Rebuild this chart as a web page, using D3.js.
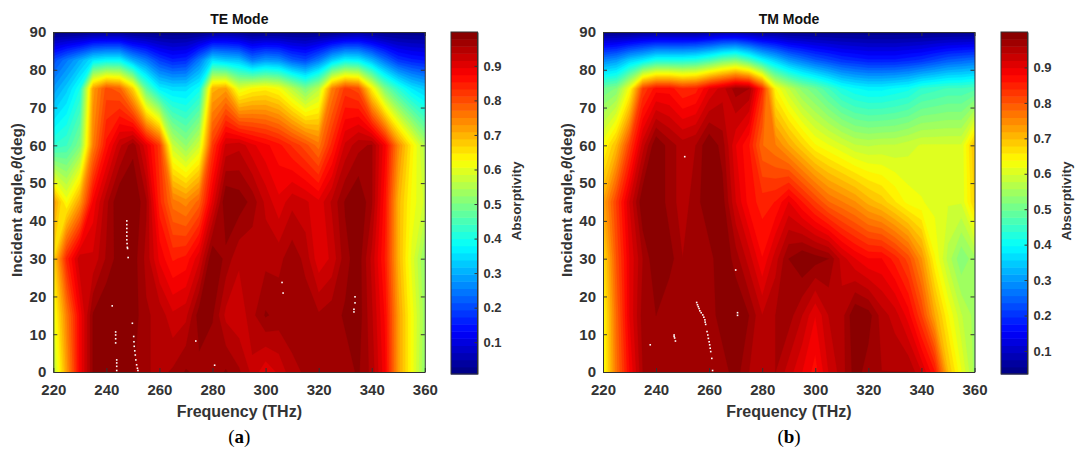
<!DOCTYPE html>
<html>
<head>
<meta charset="utf-8">
<script src="https://cdn.jsdelivr.net/npm/d3@7"></script>
<style>
html, body { margin: 0; background: #fff; }
svg { display: block; }
text { font-family: "Liberation Sans", Arial, sans-serif; font-weight: bold; fill: #333; }
.tick line, .domain { stroke: #333; }
</style>
</head>
<body>
<svg id="chart" width="1075" height="450"></svg>
<script>
// frequency samples (THz) and angle rows (deg)
var freqs = [220,225,230,235,240,245,250,255,260,265,270,275,280,285,290,295,300,305,310,315,320,325,330,335,340,345,350,355,360];
var angles = [0,15,30,45,60,75,82.5,90];

var te0  = [.55,.72,.88,.98,1,.98,.98,.96,.95,.96,.98,.97,.96,.98,.96,.93,.90,.92,.95,.96,.97,.97,.97,.98,.95,.88,.72,.62,.52];
var te15 = [.60,.75,.88,.98,1,.98,.99,.96,.95,.92,.93,.99,.98,.93,.92,.95,.98,.97,.97,.97,.96,.97,.98,.99,.94,.87,.72,.62,.53];
var te30 = [.66,.84,.93,.92,.96,.99,.99,.95,.89,.85,.86,.91,1,.97,.94,.94,.95,.95,.97,.95,.90,.92,.97,.99,.93,.85,.70,.60,.52];
var te45 = [.73,.62,.72,.88,.95,1,1,.96,.84,.76,.74,.78,.90,1,.99,.97,.93,.90,.93,.92,.90,.94,.98,1,.96,.86,.70,.62,.58];
var te60 = [.42,.44,.50,.75,.86,.93,.97,.90,.82,.57,.52,.58,.82,.92,.93,.90,.88,.86,.83,.80,.76,.84,.92,.95,.96,.88,.74,.64,.55];
var te75 = [.28,.33,.40,.72,.80,.78,.67,.47,.37,.35,.35,.39,.70,.72,.60,.63,.64,.62,.56,.50,.56,.75,.82,.80,.64,.50,.42,.36,.33];
var te82 = [.20,.25,.30,.36,.38,.38,.30,.25,.19,.16,.17,.25,.35,.33,.32,.25,.28,.27,.22,.20,.25,.33,.38,.37,.31,.24,.18,.16,.15];
var te90 = [.01,.01,.01,.02,.02,.02,.01,.01,.01,.01,.01,.01,.02,.03,.02,.01,.01,.01,.01,.01,.01,.01,.02,.03,.02,.01,.01,.01,.01];

var tm0  = [.62,.77,.88,.96,.97,.96,.96,.96,.96,.97,.99,.96,.94,.96,.93,.90,.87,.92,.95,.99,.97,.96,.96,.96,.92,.86,.70,.62,.55];
var tm15 = [.63,.78,.90,.97,.98,.96,.96,.96,.97,.99,1,.98,.94,.96,.97,.94,.90,.94,.95,1,.99,.95,.93,.89,.82,.72,.64,.58,.55];
var tm30 = [.66,.80,.90,.96,1,.99,.96,.96,.97,1,.97,.93,.88,.93,.98,1,.99,.98,.93,.90,.88,.88,.85,.81,.74,.64,.57,.52,.55];
var tm45 = [.72,.82,.92,1,1,.97,.95,.97,1,.99,.92,.87,.85,.86,.90,.86,.82,.78,.76,.74,.71,.69,.66,.63,.62,.61,.60,.60,.68];
var tm60 = [.63,.70,.82,.93,1,.97,.95,.96,1,.97,.90,.86,.78,.76,.72,.68,.64,.62,.60,.58,.575,.58,.58,.59,.60,.60,.60,.60,.70];
var tm75 = [.50,.52,.63,.82,.87,.87,.84,.85,.90,.93,.97,.96,.84,.64,.58,.53,.50,.46,.42,.40,.39,.39,.40,.41,.44,.45,.46,.46,.47];
var tm82 = [.28,.30,.35,.38,.42,.42,.42,.43,.46,.50,.52,.47,.40,.35,.30,.27,.24,.22,.20,.19,.18,.18,.18,.19,.20,.22,.24,.25,.26];
var tm90 = [.04,.04,.04,.05,.05,.05,.05,.05,.06,.07,.07,.06,.05,.05,.04,.04,.04,.04,.04,.04,.04,.04,.04,.04,.04,.04,.04,.04,.04];

// white gaps in the surface, [freq, angle]
var teSpecks = [[247.7,40],[247.7,39],[247.7,38],[247.7,37],[247.7,36],[247.7,35],[247.8,34],[247.9,33],[248,32.7],[248.2,30.3],
    [242.2,17.5],[249.8,12.9],[243.5,10.6],[243.5,9.8],[243.5,8.8],[243.5,7.7],[243.9,3.2],[243.9,2.4],[243.9,1.5],[243.9,.4],
    [250.3,9.4],[250.4,8],[250.5,6.8],[250.7,5.6],[250.9,4.5],[251.1,3.2],[251.4,1.9],[251.7,1],[251.9,.4],
    [273.7,8.2],[280.8,1.8],[306.2,23.7],[306.6,20.9],[333.7,19.9],[333.7,18.3],[333.3,16.6],[333.3,15.9]];
var tmSpecks = [[250.8,57],[270,27],[270.7,15.7],[270.7,15],[237.8,7.2],[246.8,9.8],[246.8,9.4],[247,9],[247.3,8.2],
    [255.3,18.4],[255.6,17.8],[255.9,17.3],[256.2,16.8],[256.5,16.2],[257,15.7],[257.6,15.1],[258,14.5],[258.4,13.8],[258.5,13.2],[258.7,12.6],
    [259.2,10.7],[259.5,9.8],[259.7,8.9],[260,8],[260.2,7.2],[260.4,6.3],[260.6,5.4],[261,3.6],[261.3,.4]];

var xTicks = [220,240,260,280,300,320,340,360];
var yTicks = [0,10,20,30,40,50,60,70,80,90];
var cbTicks = [.1,.2,.3,.4,.5,.6,.7,.8,.9];

var svg = d3.select("#chart");

// matlab jet, t in 0..1
function jet(t) {
    var r = Math.min(4 * t - 1.5, -4 * t + 4.5),
        g = Math.min(4 * t - 0.5, -4 * t + 3.5),
        b = Math.min(4 * t + 0.5, -4 * t + 2.5);
    var c = function(v) { return Math.round(255 * Math.max(0, Math.min(1, v))); };
    return "rgb(" + c(r) + "," + c(g) + "," + c(b) + ")";
}

var nLevels = 48;

function drawPanel(opt) {
    var g = svg.append("g");
    var x = d3.scaleLinear().domain([220, 360]).range([opt.left, opt.left + 371.5]);
    var y = d3.scaleLinear().domain([0, 90]).range([372, 32]);

    // colour levels
    var step = (opt.cmax - opt.cmin) / nLevels;
    var levels = d3.range(nLevels).map(function(i) { return opt.cmin + i * step; });
    var color = function(v) {
        var i = Math.floor((v - opt.cmin) / step + 1e-6);
        return jet((i + .5) / nLevels);
    };

    // flat grid for d3.contours, first row is the top of the plot
    var nx = freqs.length, ny = angles.length, values = [];
    for (var j = ny - 1; j >= 0; j--) values = values.concat(opt.rows[j]);

    var contours = d3.contours().size([nx, ny]).smooth(true).thresholds(levels)(values);

    // contour grid coords sit half a cell off the samples, rows are not evenly spaced
    var gx = d3.scaleLinear().domain([.5, nx - .5]).range(x.range());
    var gy = d3.scaleLinear()
        .domain(angles.map(function(a, i) { return i + .5; }))
        .range(angles.slice().reverse().map(y));
    var path = d3.geoPath(d3.geoTransform({
        point: function(px, py) { this.stream.point(gx(px), gy(py)); }
    }));

    var clipId = "clip" + Math.round(opt.left);
    svg.append("clipPath").attr("id", clipId).append("rect")
        .attr("x", x(220)).attr("y", y(90)).attr("width", x(360) - x(220)).attr("height", y(0) - y(90));

    g.append("rect")
        .attr("x", x(220)).attr("y", y(90)).attr("width", x(360) - x(220)).attr("height", y(0) - y(90))
        .attr("fill", color(opt.cmin));

    g.append("g").attr("clip-path", "url(#" + clipId + ")")
        .selectAll("path")
        .data(contours)
        .enter().append("path")
        .attr("d", path)
        .attr("fill", function(d) { return color(d.value); })
        .attr("stroke", function(d) { return color(d.value); })
        .attr("stroke-width", .3);

    g.selectAll(".speck")
        .data(opt.specks)
        .enter().append("rect")
        .attr("class", "speck")
        .attr("x", function(d) { return x(d[0]) - .8; })
        .attr("y", function(d) { return y(d[1]) - .8; })
        .attr("width", 1.6)
        .attr("height", 1.6)
        .attr("fill", "#fff");

    // axes, mirrored on the far sides without labels
    var xAxis = g.append("g").attr("transform", "translate(0,372)")
        .call(d3.axisBottom(x).tickValues(xTicks).tickSizeInner(-4).tickSizeOuter(0).tickPadding(12));
    g.append("g").attr("transform", "translate(0,32)")
        .call(d3.axisTop(x).tickValues(xTicks).tickSizeInner(-4).tickSizeOuter(0).tickFormat(""));
    var yAxis = g.append("g").attr("transform", "translate(" + opt.left + ",0)")
        .call(d3.axisLeft(y).tickValues(yTicks).tickSizeInner(-4).tickSizeOuter(0).tickPadding(7));
    g.append("g").attr("transform", "translate(" + (opt.left + 371.5) + ",0)")
        .call(d3.axisRight(y).tickValues(yTicks).tickSizeInner(-4).tickSizeOuter(0).tickFormat(""));
    xAxis.selectAll("text").style("font-size", "15px");
    yAxis.selectAll("text").style("font-size", "15px");

    g.append("text")
        .attr("x", opt.left + 186).attr("y", 24)
        .attr("text-anchor", "middle")
        .style("font-size", "14px").style("fill", "#111")
        .text(opt.title);
    g.append("text")
        .attr("x", opt.left + 186).attr("y", 417)
        .attr("text-anchor", "middle")
        .style("font-size", "16px")
        .text("Frequency (THz)");
    var yl = g.append("text")
        .attr("transform", "translate(" + (opt.left - 31) + ",200) rotate(-90)")
        .attr("text-anchor", "middle")
        .style("font-size", "15.4px");
    yl.append("tspan").text("Incident angle,");
    yl.append("tspan").style("font-style", "italic").text("θ");
    yl.append("tspan").text("(deg)");

    var cap = g.append("text")
        .attr("x", opt.left + 186).attr("y", 443)
        .attr("text-anchor", "middle")
        .style("font-family", "'Liberation Serif', serif")
        .style("font-size", "19px")
        .style("font-weight", "normal")
        .style("fill", "#000");
    cap.append("tspan").text("(");
    cap.append("tspan").style("font-weight", "bold").text(opt.caption);
    cap.append("tspan").text(")");

    // colorbar
    var cb = d3.scaleLinear().domain([opt.cmin, opt.cmax]).range([374, 32]);
    g.selectAll(".band")
        .data(levels)
        .enter().append("rect")
        .attr("class", "band")
        .attr("x", opt.cbLeft)
        .attr("width", 26.5)
        .attr("y", function(d) { return cb(d + step); })
        .attr("height", function() { return cb(opt.cmin) - cb(opt.cmin + step) + .5; })
        .attr("fill", color);
    var cbAxis = g.append("g").attr("transform", "translate(" + (opt.cbLeft + 26.5) + ",0)")
        .call(d3.axisRight(cb).tickValues(cbTicks).tickSizeInner(-3).tickSizeOuter(0).tickPadding(6).tickFormat(d3.format(".1f")));
    cbAxis.selectAll("text").style("font-size", "13px");
    g.append("rect")
        .attr("x", opt.cbLeft).attr("y", 32).attr("width", 26.5).attr("height", 342)
        .attr("fill", "none").attr("stroke", "#333");
    g.append("text")
        .attr("transform", "translate(" + (opt.cbLeft + 70) + ",201) rotate(-90)")
        .attr("text-anchor", "middle")
        .style("font-size", "13.5px")
        .text("Absorptivity");
}

drawPanel({
    left: 53.3, cbLeft: 451, title: "TE Mode", caption: "a", cmin: .008, cmax: .998,
    rows: [te0, te15, te30, te45, te60, te75, te82, te90], specks: teSpecks
});
drawPanel({
    left: 603, cbLeft: 1001, title: "TM Mode", caption: "b", cmin: .035, cmax: 1,
    rows: [tm0, tm15, tm30, tm45, tm60, tm75, tm82, tm90], specks: tmSpecks
});
</script>
</body>
</html>
